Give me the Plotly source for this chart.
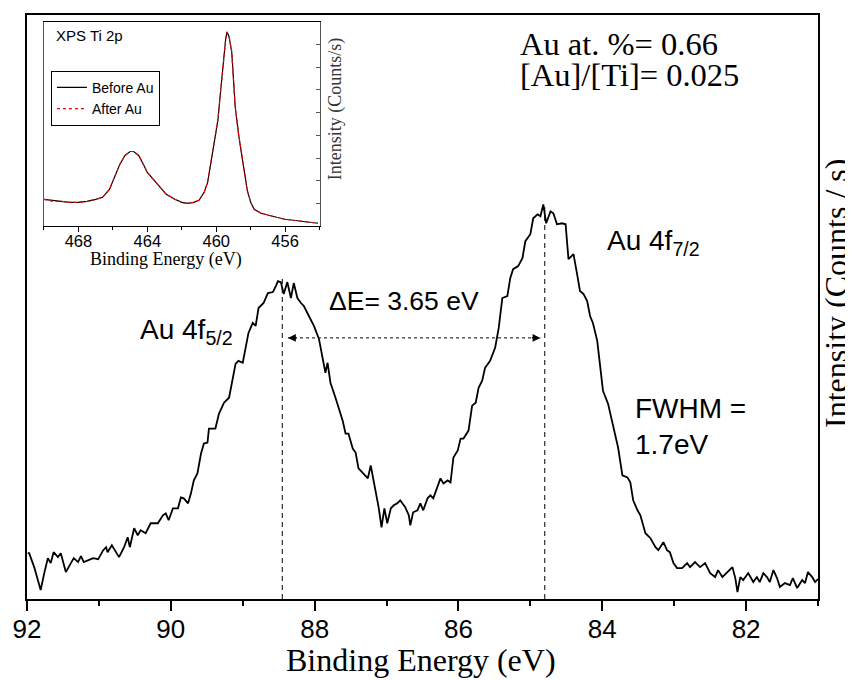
import plotly.graph_objects as go

# ---------------- main spectrum: Au 4f ----------------
be_main = [91.99, 91.97, 91.90, 91.81, 91.76, 91.71, 91.67, 91.63, 91.57, 91.53,
           91.46, 91.39, 91.35, 91.29, 91.25, 91.21, 91.15, 91.08, 91.01, 90.94,
           90.90, 90.88, 90.82, 90.72, 90.65, 90.60, 90.57, 90.51, 90.46, 90.42,
           90.35, 90.28, 90.18, 90.11, 90.07, 90.03, 89.97, 89.90, 89.86, 89.82,
           89.76, 89.72, 89.68, 89.63, 89.58, 89.54, 89.49, 89.47, 89.38, 89.33,
           89.26, 89.19, 89.10, 89.06, 89.00, 88.96, 88.92, 88.86, 88.82, 88.78,
           88.71, 88.65, 88.58, 88.54, 88.51, 88.47, 88.43, 88.38, 88.33, 88.29,
           88.24, 88.19, 88.15, 88.08, 88.01, 87.94, 87.89, 87.85, 87.82, 87.78,
           87.71, 87.67, 87.61, 87.57, 87.53, 87.47, 87.43, 87.39, 87.32, 87.26,
           87.22, 87.18, 87.15, 87.11, 87.07, 87.03, 86.99, 86.94, 86.90, 86.85,
           86.81, 86.74, 86.69, 86.67, 86.63, 86.57, 86.53, 86.49, 86.43, 86.39,
           86.35, 86.29, 86.25, 86.21, 86.15, 86.11, 86.07, 86.01, 85.97, 85.93,
           85.86, 85.81, 85.76, 85.72, 85.67, 85.63, 85.56, 85.49, 85.44, 85.39,
           85.32, 85.28, 85.24, 85.17, 85.11, 85.07, 85.00, 84.96, 84.90, 84.86,
           84.82, 84.78, 84.72, 84.68, 84.63, 84.56, 84.51, 84.47, 84.40, 84.35,
           84.31, 84.26, 84.21, 84.17, 84.13, 84.07, 84.03, 83.99, 83.92, 83.86,
           83.78, 83.72, 83.65, 83.61, 83.57, 83.51, 83.47, 83.40, 83.33, 83.26,
           83.22, 83.15, 83.10, 83.06, 83.01, 82.96, 82.89, 82.82, 82.78, 82.71,
           82.64, 82.57, 82.50, 82.43, 82.39, 82.33, 82.26, 82.19, 82.15, 82.12,
           82.08, 82.04, 81.97, 81.90, 81.85, 81.81, 81.76, 81.71, 81.67, 81.62,
           81.57, 81.53, 81.46, 81.39, 81.35, 81.29, 81.22, 81.18, 81.14, 81.08,
           81.04, 81.00]
int_main = [44, 44, 30, 7, 24, 39, 34, 45, 40, 44,
            25, 34, 39, 35, 41, 35, 37, 39, 38, 47,
            50, 45, 52, 40, 50, 60, 50, 69, 62, 67,
            64, 74, 74, 82, 84, 77, 89, 89, 100, 99,
            94, 104, 117, 124, 144, 154, 155, 169, 169, 184,
            195, 200, 234, 237, 235, 249, 265, 275, 272, 290,
            295, 305, 306, 312, 317, 316, 304, 316, 300, 315,
            300, 295, 292, 282, 272, 259, 240, 225, 235, 215,
            200, 190, 177, 164, 164, 149, 145, 129, 124, 119,
            132, 117, 102, 90, 70, 89, 74, 89, 92, 94,
            97, 90, 82, 72, 85, 87, 94, 87, 99, 102,
            99, 110, 119, 114, 117, 115, 140, 147, 159, 159,
            167, 192, 195, 210, 217, 230, 237, 250, 270, 300,
            302, 320, 329, 332, 340, 357, 364, 380, 384, 382,
            394, 375, 387, 385, 374, 375, 374, 339, 344, 324,
            307, 304, 297, 282, 275, 257, 230, 207, 194, 174,
            150, 122, 120, 115, 97, 87, 82, 64, 59, 50,
            47, 55, 47, 45, 34, 29, 29, 34, 30, 35,
            30, 34, 24, 20, 27, 20, 25, 30, 19, 5,
            20, 17, 24, 15, 20, 15, 24, 20, 15, 27,
            19, 10, 14, 12, 19, 9, 17, 14, 25, 20,
            15, 18]

# peak positions (eV) and heights of the marker lines
peak_52 = 88.45
peak_72 = 84.80
peak_52_top = 322
peak_72_top = 395
arrow_level = 260
arrow_left = 88.37
arrow_right = 84.86

# ---------------- inset: Ti 2p ----------------
be_ti = [470.0, 469.5, 469.0, 468.5, 468.0, 467.5, 467.0, 466.6, 466.2, 465.9,
         465.6, 465.3, 465.0, 464.8, 464.5, 464.2, 464.0, 463.5, 462.9, 462.4,
         462.0, 461.7, 461.3, 461.0, 460.7, 460.5, 460.3, 460.1, 459.9, 459.75,
         459.6, 459.45, 459.37, 459.25, 459.1, 459.0, 458.9, 458.7, 458.55, 458.4,
         458.2, 458.0, 457.8, 457.4, 457.0, 456.5, 456.0, 455.5, 455.0, 454.5,
         454.1]
int_before = [27, 26, 25, 24, 24, 25, 27, 29, 37, 49,
              62, 71, 75, 75, 71, 61, 54, 44, 32, 27,
              24, 23, 24, 26, 34, 44, 64, 85, 107, 135,
              164, 188, 195, 190, 175, 140, 120, 92, 74, 55,
              36, 24, 17, 13, 11, 9, 7, 6, 5, 4,
              3]
int_after = [27, 25, 25, 24, 24, 25, 27, 29, 37, 49,
             62, 71, 75, 75, 71, 61, 54, 44, 32, 27,
             24, 23, 24, 26, 34, 44, 64, 85, 107, 135,
             164, 188, 195, 190, 175, 140, 120, 92, 74, 55,
             36, 24, 17, 13, 11, 9, 7, 6, 5, 4,
             3]

main_xticks = [92, 90, 88, 86, 84, 82]
inset_xticks = [468, 464, 460, 456]

SERIF = "Liberation Serif, Times New Roman, serif"
SANS = "Liberation Sans, Arial, sans-serif"

fig = go.Figure()

fig.add_trace(go.Scatter(x=be_main, y=int_main, mode="lines",
                         line=dict(color="black", width=1.8),
                         showlegend=False, xaxis="x", yaxis="y"))

fig.add_trace(go.Scatter(x=be_ti, y=int_before, mode="lines", name="Before Au",
                         line=dict(color="black", width=1.2),
                         xaxis="x2", yaxis="y2"))
fig.add_trace(go.Scatter(x=be_ti, y=int_after, mode="lines", name="After Au",
                         line=dict(color="red", width=1.2, dash="3px,3px"),
                         xaxis="x2", yaxis="y2"))

# dashed vertical lines at the peak maxima
for xp, top in [(peak_52, peak_52_top), (peak_72, peak_72_top)]:
    fig.add_shape(type="line", xref="x", yref="y", x0=xp, x1=xp, y0=-2, y1=top,
                  line=dict(color="black", width=1, dash="5px,4px"))
# dashed horizontal double arrow
fig.add_shape(type="line", xref="x", yref="y", x0=arrow_left, x1=arrow_right,
              y0=arrow_level, y1=arrow_level,
              line=dict(color="black", width=1, dash="3px,3px"))

annotations = []
for xa, xt in [(arrow_left, arrow_left - 0.14), (arrow_right, arrow_right + 0.14)]:
    annotations.append(dict(x=xa, y=arrow_level, ax=xt, ay=arrow_level,
                            xref="x", yref="y", axref="x", ayref="y",
                            text="", showarrow=True, arrowhead=2, arrowsize=1.3,
                            arrowwidth=1.2, arrowcolor="black"))

def txt(x, y, s, size, family=SANS, xref="x", yref="y", xanchor="left",
        yanchor="middle", angle=0, color="black"):
    return dict(x=x, y=y, xref=xref, yref=yref, text=s, showarrow=False,
                xanchor=xanchor, yanchor=yanchor, textangle=angle,
                font=dict(family=family, size=size, color=color))

annotations += [
    txt(90.46, 266, "Au 4f<sub>5/2</sub>", 28),
    txt(87.83, 297, "ΔE= 3.65 eV", 26.5),
    txt(83.96, 356, "Au 4f<sub>7/2</sub>", 28),
    txt(83.57, 189, "FWHM =", 28),
    txt(83.57, 153, "1.7eV", 28),
    txt(85.17, 555, "Au at. %= 0.66", 32.5, family=SERIF),
    txt(85.17, 524, "[Au]/[Ti]= 0.025", 32.5, family=SERIF),
    txt(0.4975, -0.104, "Binding Energy (eV)", 32, family=SERIF,
        xref="paper", yref="paper", xanchor="center"),
    txt(1.0227, 0.524, "Intensity (Counts / s)", 32, family=SERIF,
        xref="paper", yref="paper", xanchor="center", angle=-90),
    txt(469.43, 191, "XPS Ti 2p", 15, xref="x2", yref="y2"),
    txt(0.1755, 0.5810, "Binding Energy (eV)", 18, family=SERIF,
        xref="paper", yref="paper", xanchor="center"),
    txt(0.390, 0.8396, "Intensity (Counts/s)", 18, family=SERIF,
        xref="paper", yref="paper", xanchor="center", angle=-90, color="#333"),
]

fig.update_layout(
    width=853, height=680,
    margin=dict(l=18, r=43, t=5, b=89),
    paper_bgcolor="white", plot_bgcolor="white",
    showlegend=True,
    legend=dict(x=0.0303, y=0.9044, xanchor="left", yanchor="top",
                bgcolor="white", bordercolor="black", borderwidth=1,
                font=dict(family=SANS, size=14, color="black"),
                tracegroupgap=0, itemwidth=30),
    annotations=annotations,
    xaxis=dict(domain=[0, 1], range=[92, 81], tickvals=main_xticks,
               ticks="outside", ticklen=10, tickwidth=1.8, tickcolor="black",
               ticklabelstandoff=-4,
               minor=dict(dtick=1, tick0=92, ticks="outside", ticklen=5,
                          tickwidth=1.8, tickcolor="black"),
               showline=True, linecolor="black", linewidth=1.8, mirror=True,
               showgrid=False, zeroline=False,
               tickfont=dict(family=SANS, size=26, color="black")),
    yaxis=dict(domain=[0, 1], range=[-2, 584], side="right",
               showticklabels=False, ticks="",
               showline=True, linecolor="black", linewidth=1.8, mirror=True,
               showgrid=False, zeroline=False),
    xaxis2=dict(domain=[0.02146, 0.3699], anchor="y2", range=[470, 454],
                tickvals=inset_xticks, ticks="outside", ticklen=5, tickwidth=1,
                tickcolor="black", ticklabelstandoff=-5,
                minor=dict(dtick=2, tick0=468, ticks="outside", ticklen=3,
                           tickwidth=1, tickcolor="black"),
                showline=True, linecolor="black", linewidth=1, mirror=True,
                showgrid=False, zeroline=False,
                tickfont=dict(family=SANS, size=16.5, color="black")),
    yaxis2=dict(domain=[0.6383, 0.9881], anchor="x2", range=[0, 205],
                side="right", showticklabels=False,
                tick0=0, dtick=22.8, ticks="inside", ticklen=4, tickwidth=1,
                tickcolor="#555",
                showline=True, linecolor="#555", linewidth=1, mirror=True,
                showgrid=False, zeroline=False),
)

fig.write_html("out.html")
